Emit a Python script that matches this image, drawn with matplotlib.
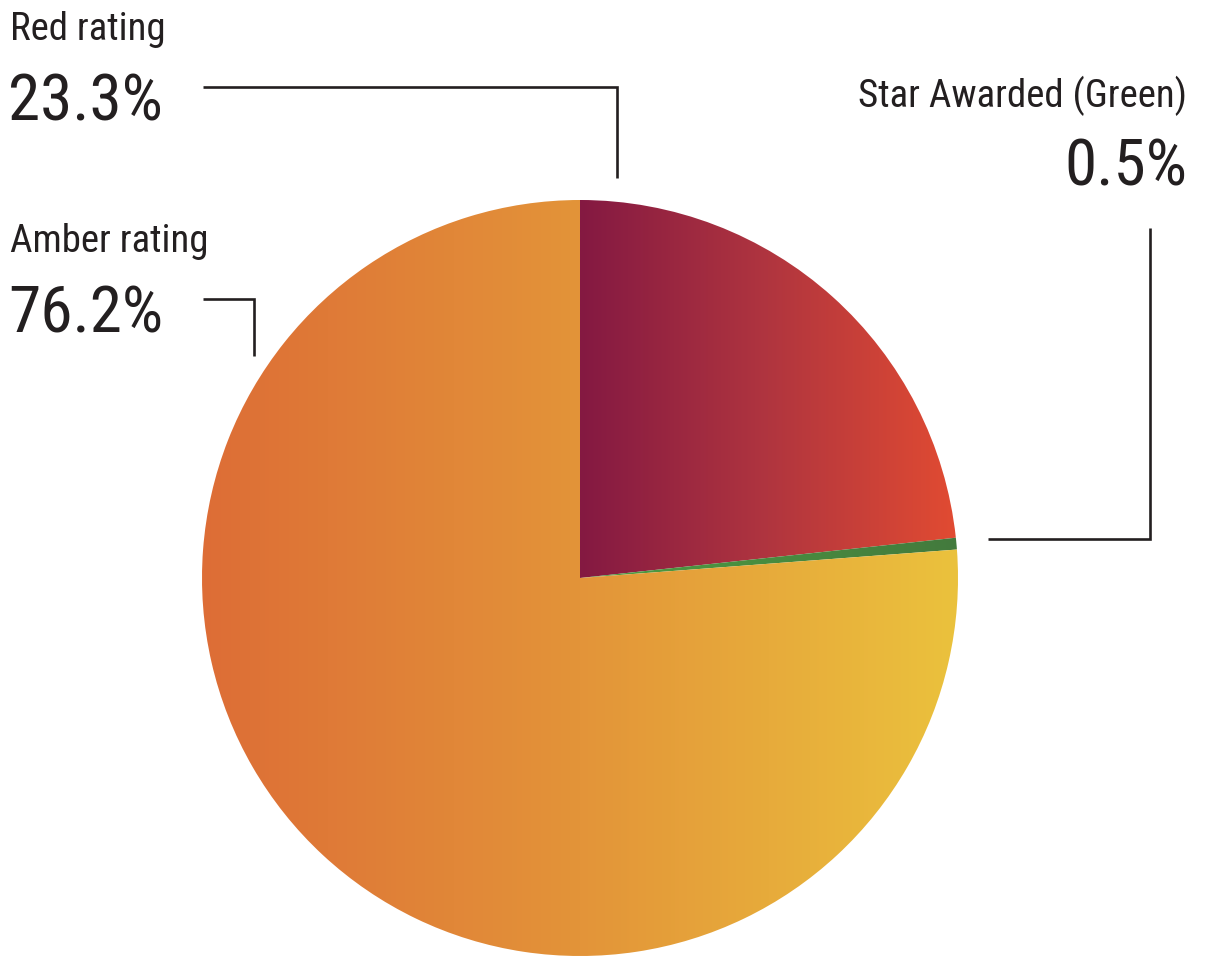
import numpy as np
import matplotlib
matplotlib.use("Agg")
import matplotlib.pyplot as plt
from matplotlib.colors import LinearSegmentedColormap

# data
labels = ["Red rating", "Star Awarded (Green)", "Amber rating"]
shares = [23.3, 0.5, 76.2]
pct_text = ["23.3%", "0.5%", "76.2%"]

# gradient colours per slice (left -> right)
grad_colors = [
    ["#841942", "#B0353F", "#E14B32"],
    ["#4E9E42", "#437A3D"],
    ["#DD6D36", "#E39439", "#EBC23D"],
]

W, H = 1208, 958
fam = ["Roboto Condensed", "Liberation Sans Narrow", "Roboto", "DejaVu Sans"]
ink = "#231F20"

fig = plt.figure(figsize=(W / 100, H / 100), dpi=100)
ax = fig.add_axes([0, 0, 1, 1])

cx, cy, r = 580, H - 578, 378
wedges, _ = ax.pie(shares, startangle=90, counterclock=False,
                   center=(cx, cy), radius=r, frame=True,
                   wedgeprops=dict(linewidth=0))

for w, cols in zip(wedges, grad_colors):
    w.set_facecolor("none")
    # horizontal gradient across the slice's own x span
    verts = w.get_path().vertices
    x0, x1 = verts[:, 0].min(), verts[:, 0].max()
    y0, y1 = verts[:, 1].min(), verts[:, 1].max()
    cmap = LinearSegmentedColormap.from_list("g", cols)
    grad = np.linspace(0, 1, 256).reshape(1, -1)
    im = ax.imshow(grad, cmap=cmap, extent=[x0, x1, y0, y1],
                   aspect="auto", interpolation="bilinear", zorder=1)
    im.set_clip_path(w)

ax.set_xlim(0, W)
ax.set_ylim(0, H)
ax.set_aspect("equal")
ax.axis("off")

# leader lines (pixel coords from top)
def line(xs, ys):
    ax.plot(xs, [H - y for y in ys], color=ink, lw=1.9,
            solid_joinstyle="miter", solid_capstyle="butt", zorder=3)

line([203, 617, 617], [87, 87, 178])
line([203, 254, 254], [299, 299, 356])
line([1150, 1150, 988], [228, 539, 539])

def label(x, y, s, size, ha="left"):
    ax.text(x, H - y, s, fontsize=size, color=ink, ha=ha, va="baseline",
            family=fam)

label(10, 40, labels[0], 28)
label(8, 120, pct_text[0], 47)
label(1187, 107, labels[1], 28, ha="right")
label(1187, 185, pct_text[1], 47, ha="right")
label(10, 252, labels[2], 28)
label(8, 332, pct_text[2], 47)

fig.savefig("out.png", dpi=100)
